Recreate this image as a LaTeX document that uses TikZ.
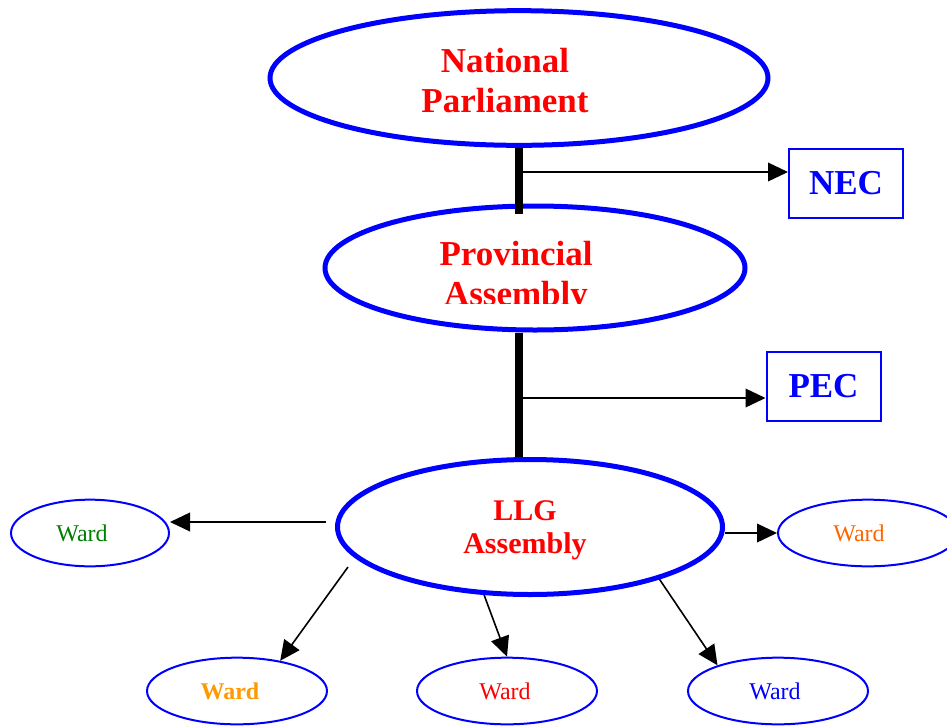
\documentclass[tikz,border=0pt]{standalone}
\usepackage{fontspec}
\setmainfont{Liberation Serif}
\usetikzlibrary{shapes.geometric,arrows.meta}
\definecolor{WardGreen}{HTML}{008000}
\definecolor{WardOrange}{HTML}{FF6600}
\definecolor{WardAmber}{HTML}{FF9900}

\begin{document}
\begin{tikzpicture}[x=0.75pt, y=-0.75pt, every node/.style={font=\fontsize{18}{21}\selectfont}]
    \tikzstyle{oval}=[ellipse, draw=blue, line width=3.75pt, inner sep=0pt]
    \tikzstyle{ovaltext}=[text=red, align=center, inner sep=0pt, font=\fontsize{26.25}{30}\selectfont\bfseries]
    \tikzstyle{ward}=[ellipse, draw=blue, line width=1.5pt, inner sep=0pt, minimum width=135pt, minimum height=50pt]
    \tikzstyle{council}=[draw=blue, line width=1.5pt, minimum width=85.5pt, minimum height=51.75pt, text=blue, font=\fontsize{26.25}{30}\selectfont\bfseries]
    \tikzstyle{link}=[-{Triangle[length=15pt,width=14pt]}, line width=1.2pt]
    \tikzstyle{bar}=[line width=5.5pt]
    \useasboundingbox (0,0) rectangle (947,726);
    % assemblies
    \node[oval, minimum width=373.5pt, minimum height=101pt] (np) at (519,78) {};
    \node[ovaltext] (nptext) at (505,81) {National\\Parliament};
    \node[oval, minimum width=315pt, minimum height=93pt] (pa) at (535,268) {};
    \begin{scope}
      \clip (330,225) rectangle (740,303);
      \node[ovaltext] (patext) at (516,277) {Provincial\\Assembly};
    \end{scope}
    \node[oval, minimum width=288.75pt, minimum height=101.25pt] (llg) at (530,527) {};
    \node[ovaltext, font=\fontsize{22.5}{24.75}\selectfont\bfseries] (llgtext) at (525,530) {LLG\\Assembly};
    % executive councils
    \node[council] (nec) at (846,183.5) {NEC};
    \node[council] (pec) at (823.5,386) {PEC};
    % wards
    \node[ward, minimum width=118.5pt] (wardl) at (90,533) {};
    \node[ward] (wardr) at (868,533) {};
    \node[ward] (wardbl) at (237,691) {};
    \node[ward] (wardbm) at (507,691) {};
    \node[ward] (wardbr) at (778,691) {};
    \node[text=WardGreen] (wardltext) at (82,533) {Ward};
    \node[text=WardOrange] (wardrtext) at (859,533) {Ward};
    \node[text=WardAmber, font=\fontsize{18}{21}\selectfont\bfseries] (wardbltext) at (230,691) {Ward};
    \node[text=red] (wardbmtext) at (505,691) {Ward};
    \node[text=blue] (wardbrtext) at (775,691) {Ward};
    % hierarchy bars
    \draw[bar] (np.south) -- (np.south |- pa.north) -- ++(0,10);
    \draw[bar] (np.south |- pa.south) -- (np.south |- llg.north);
    \coordinate (tapn) at (519,172);
    \coordinate (tapp) at (519,398);
    \draw[link] (tapn) -- (tapn -| nec.west);
    \draw[link] (tapp) -- (tapp -| pec.west);
    % ward links
    \coordinate (llgl) at ([shift={(-9,-5)}]llg.west);
    \draw[link] (llgl) -- (llgl -| wardl.east);
    \draw[link] (llg.east |- wardr.west) -- (wardr.west);
    \draw[link] ([shift={(13,40)}]llg.west) -- (wardbl.35);
    \draw[link] (llg.236) -- (wardbm.north);
    \draw[link] (llg.-22) -- (wardbr.157);
  \end{tikzpicture}
\end{document}
